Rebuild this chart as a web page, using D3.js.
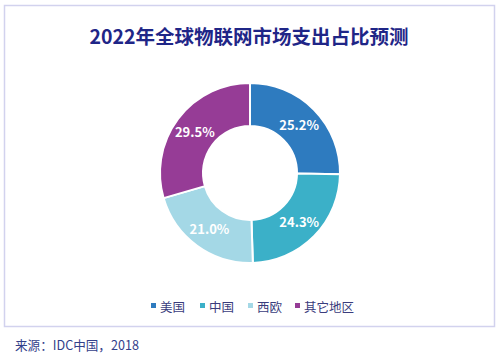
<!DOCTYPE html>
<html>
<head>
<meta charset="utf-8">
<script src="https://cdn.jsdelivr.net/npm/d3@7"></script>
<style>
  html, body { margin: 0; padding: 0; background: #fff; }
  svg { display: block; }
</style>
</head>
<body>
<svg id="chart" width="500" height="355"></svg>
<script>
const title = "2022年全球物联网市场支出占比预测";
const categories = ["美国", "中国", "西欧", "其它地区"];
const values = [25.2, 24.3, 21.0, 29.5];
const labels = ["25.2%", "24.3%", "21.0%", "29.5%"];
const colors = ["#2e7bbf", "#3bb0c8", "#a4d8e6", "#963c96"];
const source = "来源：IDC中国，2018";

const font = "'Noto Sans CJK SC', 'Noto Sans', sans-serif";
const svg = d3.select("#chart");

// frame
svg.append("rect")
  .attr("x", 4.5).attr("y", 5.5).attr("width", 490).attr("height", 321)
  .attr("fill", "#fff").attr("stroke", "#d2d2ee").attr("stroke-width", 1.5);

// title
svg.append("text")
  .attr("x", 249).attr("y", 35)
  .attr("text-anchor", "middle").attr("dominant-baseline", "central")
  .attr("font-family", font).attr("font-weight", "bold").attr("font-size", 19.5)
  .attr("fill", "#1f2687")
  .text(title);

// donut
const data = categories.map((c, i) => ({ name: c, value: values[i], label: labels[i], color: colors[i] }));
const pie = d3.pie().value(d => d.value).sort(null);
const arcs = pie(data);
const arc = d3.arc().innerRadius(47).outerRadius(90);
const g = svg.append("g").attr("transform", "translate(250,173)");

g.selectAll("path").data(arcs).join("path")
  .attr("d", arc)
  .attr("fill", d => d.data.color)
  .attr("stroke", "#fff").attr("stroke-width", 2);

const labelArc = d3.arc().innerRadius(69).outerRadius(69);
g.selectAll("text").data(arcs).join("text")
  .attr("transform", d => `translate(${labelArc.centroid(d)})`)
  .attr("text-anchor", "middle").attr("dominant-baseline", "central")
  .attr("font-family", font).attr("font-weight", "bold").attr("font-size", 13)
  .attr("fill", "#fff")
  .text(d => d.data.label);

// legend
const legendX = [151, 200, 248, 295];
const lg = svg.append("g");
data.forEach((d, i) => {
  lg.append("rect")
    .attr("x", legendX[i]).attr("y", 303).attr("width", 5).attr("height", 5)
    .attr("fill", d.color);
  lg.append("text")
    .attr("x", legendX[i] + 9).attr("y", 306)
    .attr("dominant-baseline", "central")
    .attr("font-family", font).attr("font-size", 12.5)
    .attr("fill", "#3a3c7c")
    .text(d.name);
});

// source
svg.append("text")
  .attr("x", 15).attr("y", 344)
  .attr("dominant-baseline", "central")
  .attr("font-family", font).attr("font-size", 12.6)
  .attr("fill", "#33408a")
  .text(source);
</script>
</body>
</html>
